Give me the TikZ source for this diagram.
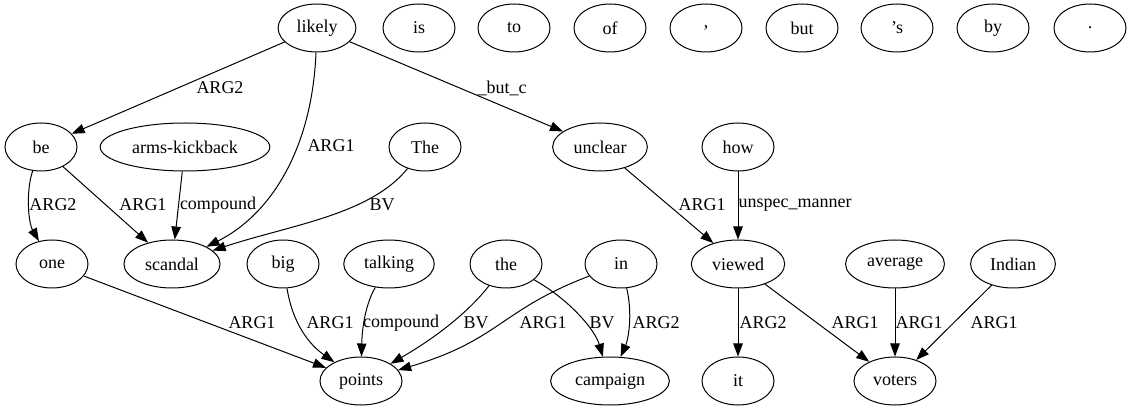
\documentclass[tikz,border=0pt]{standalone}
\usepackage{fontspec}
\setmainfont{Liberation Serif}
\usetikzlibrary{arrows.meta,shapes.geometric}
\begin{document}
\begin{tikzpicture}[x=1pt, y=1pt, font=\rmfamily\fontsize{18}{21}\selectfont,
        word/.style={draw, ellipse, line width=1pt, minimum width=72pt, minimum height=48pt, inner xsep=7pt, inner ysep=3pt},
        edge/.style={line width=1pt, -{Triangle[length=13pt, width=9.5pt]}},
        lbl/.style={inner sep=0pt}]
    \useasboundingbox (0, 0) rectangle (1132, -411);
    \node[word] (likely) at (317, -28) {likely};
    \node[word] (is) at (419, -28) {is};
    \node[word] (to) at (514, -28) {to};
    \node[word] (of) at (610, -28) {of};
    \node[word] (comma) at (706, -28) {,};
    \node[word] (but) at (802, -28) {but};
    \node[word] (poss) at (897, -28) {’s};
    \node[word] (by) at (993, -28) {by};
    \node[word] (period) at (1090, -28) {.};
    \node[word] (be) at (41, -147) {be};
    \node[word] (arms-kickback) at (185, -147) {arms-kickback};
    \node[word] (The) at (425, -147) {The};
    \node[word] (unclear) at (600, -147) {unclear};
    \node[word] (how) at (738, -147) {how};
    \node[word] (one) at (52, -264) {one};
    \node[word] (scandal) at (172, -264) {scandal};
    \node[word] (big) at (283, -264) {big};
    \node[word] (talking) at (389, -264) {talking};
    \node[word] (the) at (506, -264) {the};
    \node[word] (in) at (621, -264) {in};
    \node[word] (viewed) at (738, -264) {viewed};
    \node[word] (average) at (895, -264) {average};
    \node[word] (Indian) at (1013, -264) {Indian};
    \node[word] (points) at (361, -381) {points};
    \node[word] (campaign) at (610, -381) {campaign};
    \node[word] (it) at (738, -381) {it};
    \node[word] (voters) at (895, -381) {voters};
    \draw[edge] (likely) -- (be) node[lbl] at (220, -88) {ARG2};
    \draw[edge] (likely) .. controls (312, -150) and (270, -215) .. (scandal) node[lbl] at (331, -146) {ARG1};
    \draw[edge] (likely) -- (unclear) node[lbl] at (502, -88) {\_but\_c};
    \draw[edge] (be) .. controls (26, -190) and (28, -222) .. (one) node[lbl] at (53, -205) {ARG2};
    \draw[edge] (be) -- (scandal) node[lbl] at (143, -205) {ARG1};
    \draw[edge] (arms-kickback) -- (scandal) node[lbl] at (218, -205) {compound};
    \draw[edge] (The) .. controls (370, -215) and (290, -225) .. (scandal) node[lbl] at (382, -205) {BV};
    \draw[edge] (unclear) -- (viewed) node[lbl] at (702, -205) {ARG1};
    \draw[edge] (how) -- (viewed) node[lbl] at (795, -205) {unspec\_manner};
    \draw[edge] (one) -- (points) node[lbl] at (252, -323) {ARG1};
    \draw[edge] (big) .. controls (293, -325) and (310, -345) .. (points) node[lbl] at (330, -323) {ARG1};
    \draw[edge] (talking) .. controls (365, -305) and (362, -330) .. (points) node[lbl] at (401, -323) {compound};
    \draw[edge] (the) .. controls (470, -310) and (440, -335) .. (points) node[lbl] at (476, -323) {BV};
    \draw[edge] (in) .. controls (500, -310) and (500, -340) .. (points) node[lbl] at (543, -323) {ARG1};
    \draw[edge] (the) .. controls (570, -300) and (595, -330) .. (campaign) node[lbl] at (602, -323) {BV};
    \draw[edge] (in) .. controls (633, -315) and (628, -340) .. (campaign) node[lbl] at (656, -323) {ARG2};
    \draw[edge] (viewed) -- (it) node[lbl] at (763, -323) {ARG2};
    \draw[edge] (viewed) -- (voters) node[lbl] at (855, -323) {ARG1};
    \draw[edge] (average) -- (voters) node[lbl] at (919, -323) {ARG1};
    \draw[edge] (Indian) -- (voters) node[lbl] at (994, -323) {ARG1};
\end{tikzpicture}
\end{document}
